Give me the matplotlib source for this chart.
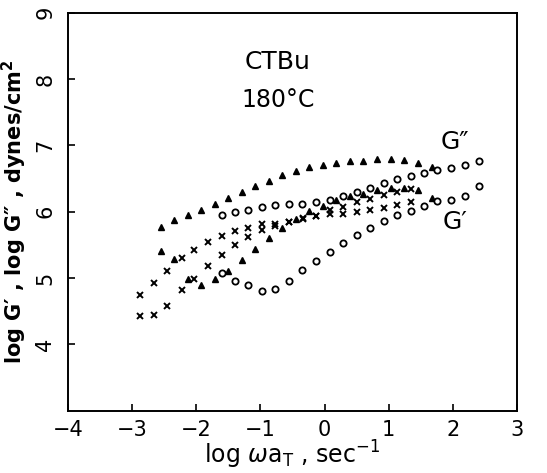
import matplotlib
matplotlib.use('Agg')
import matplotlib.pyplot as plt

plt.rcParams['font.family'] = ['DejaVu Sans']
plt.rcParams['mathtext.fontset'] = 'dejavusans'

# triangles
tri_x = [-2.55, -2.34, -2.13, -1.92, -1.71, -1.50, -1.29, -1.08, -0.87, -0.66, -0.45,
         -0.24, -0.03, 0.18, 0.40, 0.60, 0.82, 1.03, 1.24, 1.45, 1.67]
tri_g2 = [5.77, 5.87, 5.95, 6.03, 6.11, 6.20, 6.29, 6.38, 6.47, 6.55, 6.62,
          6.68, 6.71, 6.74, 6.76, 6.77, 6.79, 6.79, 6.78, 6.74, 6.68]
tri_g1 = [5.40, 5.28, 4.99, 4.90, 4.98, 5.11, 5.27, 5.44, 5.61, 5.76, 5.89,
          6.01, 6.09, 6.17, 6.23, 6.27, 6.33, 6.36, 6.35, 6.32, 6.20]

# circles
circ_x = [-1.60, -1.40, -1.19, -0.98, -0.77, -0.56, -0.35, -0.14, 0.08, 0.29,
          0.50, 0.71, 0.92, 1.13, 1.34, 1.55, 1.76, 1.97, 2.19, 2.40]
circ_g2 = [5.95, 6.00, 6.03, 6.07, 6.10, 6.11, 6.12, 6.14, 6.18, 6.23,
           6.30, 6.36, 6.44, 6.49, 6.54, 6.59, 6.63, 6.66, 6.70, 6.77]
circ_g1 = [5.07, 4.95, 4.89, 4.80, 4.83, 4.95, 5.12, 5.26, 5.39, 5.53,
           5.65, 5.76, 5.86, 5.95, 6.01, 6.09, 6.16, 6.18, 6.23, 6.38]

# crosses
crs_x = [-2.88, -2.66, -2.45, -2.23, -2.03, -1.82, -1.60, -1.40, -1.19, -0.98, -0.77,
         -0.55, -0.34, -0.13, 0.08, 0.29, 0.50, 0.71, 0.92, 1.13, 1.34]
crs_g2 = [4.74, 4.92, 5.11, 5.30, 5.42, 5.54, 5.63, 5.71, 5.76, 5.81, 5.82,
          5.85, 5.89, 5.93, 6.03, 6.07, 6.14, 6.19, 6.25, 6.29, 6.34]
crs_g1 = [4.43, 4.45, 4.58, 4.82, 4.98, 5.18, 5.34, 5.50, 5.62, 5.73, 5.78,
          5.84, 5.90, 5.93, 5.97, 5.96, 6.00, 6.02, 6.06, 6.10, 6.14]

xticks = [-4, -3, -2, -1, 0, 1, 2, 3]
yticks = [4, 5, 6, 7, 8, 9]

fig = plt.figure(figsize=(5.47, 4.73), dpi=100)
ax = fig.add_axes([0.1243, 0.1317, 0.8209, 0.8415])

for ys in (tri_g2, tri_g1):
    ax.plot(tri_x, ys, ls='none', marker='^', ms=4, color='black')
for ys in (circ_g2, circ_g1):
    ax.plot(circ_x, ys, ls='none', marker='o', ms=4.5, mfc='white', mec='black', mew=1.3)
for ys in (crs_g2, crs_g1):
    ax.plot(crs_x, ys, ls='none', marker='x', ms=4.5, color='black', mew=1.4)

ax.set_xlim(-4, 3)
ax.set_ylim(3, 9)
ax.set_xticks(xticks)
ax.set_yticks(yticks)
ax.set_xticklabels([str(t).replace('-', '\u2212') for t in xticks], fontsize=15)
ax.set_yticklabels([str(t) for t in yticks], fontsize=15, rotation=90, va='center')
ax.tick_params(direction='in', length=5, width=1.2, top=False, right=False, pad=7)
ax.tick_params(axis='y', pad=9)

for s in ax.spines.values():
    s.set_linewidth(1.4)

ax.set_xlabel(r'log $\omega$a$_\mathrm{T}$ , sec$^{-1}$', fontsize=17, labelpad=-1)
ax.set_ylabel('log G\u2032 , log G\u2033 , dynes/cm$^\mathbf{2}$', fontsize=15,
              fontweight='bold', labelpad=5)

ax.text(-0.73, 8.26, 'CTBu', fontsize=18, ha='center', va='center')
ax.text(-0.73, 7.68, '180\u00b0C', fontsize=17, ha='center', va='center')
ax.text(2.03, 7.05, 'G\u2033', fontsize=18, ha='center', va='center')
ax.text(2.03, 5.84, 'G\u2032', fontsize=18, ha='center', va='center')

fig.savefig('out.png', dpi=100)
